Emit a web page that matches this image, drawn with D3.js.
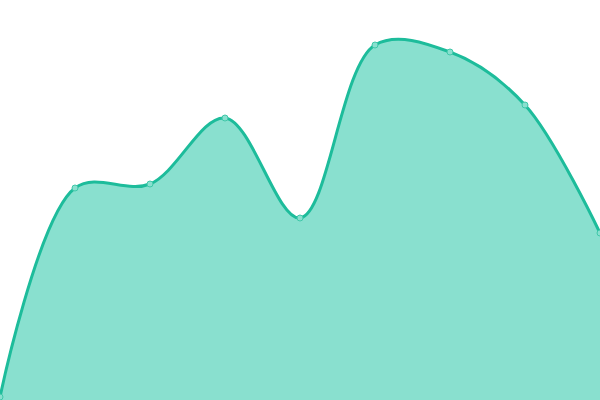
<!DOCTYPE html>
<html>
<head>
<meta charset="utf-8">
<script src="https://cdn.jsdelivr.net/npm/d3@7"></script>
<style>
  html, body { margin: 0; padding: 0; background: #fff; }
  svg { display: block; }
</style>
</head>
<body>
<script>
// series values, one per step along x
var steps = [0, 1, 2, 3, 4, 5, 6, 7, 8];
var values = [3, 212, 216, 282, 182, 355, 348, 295, 167];

var width = 600,
    height = 400;

var svg = d3.select('body')
            .append('svg')
            .attr('width', width)
            .attr('height', height);

var x = d3.scaleLinear().domain([0, 8]).range([0, width]);
var y = d3.scaleLinear().domain([0, 400]).range([height, 0]);

var data = steps.map(function(s, i) { return { s: s, v: values[i] }; });

var area = d3.area()
    .curve(d3.curveCatmullRom)
    .x(function(d) { return x(d.s); })
    .y0(height)
    .y1(function(d) { return y(d.v); });

var line = d3.line()
    .curve(d3.curveCatmullRom)
    .x(function(d) { return x(d.s); })
    .y(function(d) { return y(d.v); });

svg.append('path')
   .datum(data)
   .attr('d', area)
   .attr('fill', '#89e0cf');

svg.append('path')
   .datum(data)
   .attr('d', line)
   .attr('fill', 'none')
   .attr('stroke', '#1dbc9b')
   .attr('stroke-width', 3);

svg.selectAll('circle')
   .data(data)
   .enter()
   .append('circle')
   .attr('cx', function(d) { return x(d.s); })
   .attr('cy', function(d) { return y(d.v); })
   .attr('r', 3)
   .attr('fill', '#89e0cf')
   .attr('stroke', '#3fc8a9')
   .attr('stroke-width', 1);
</script>
</body>
</html>
